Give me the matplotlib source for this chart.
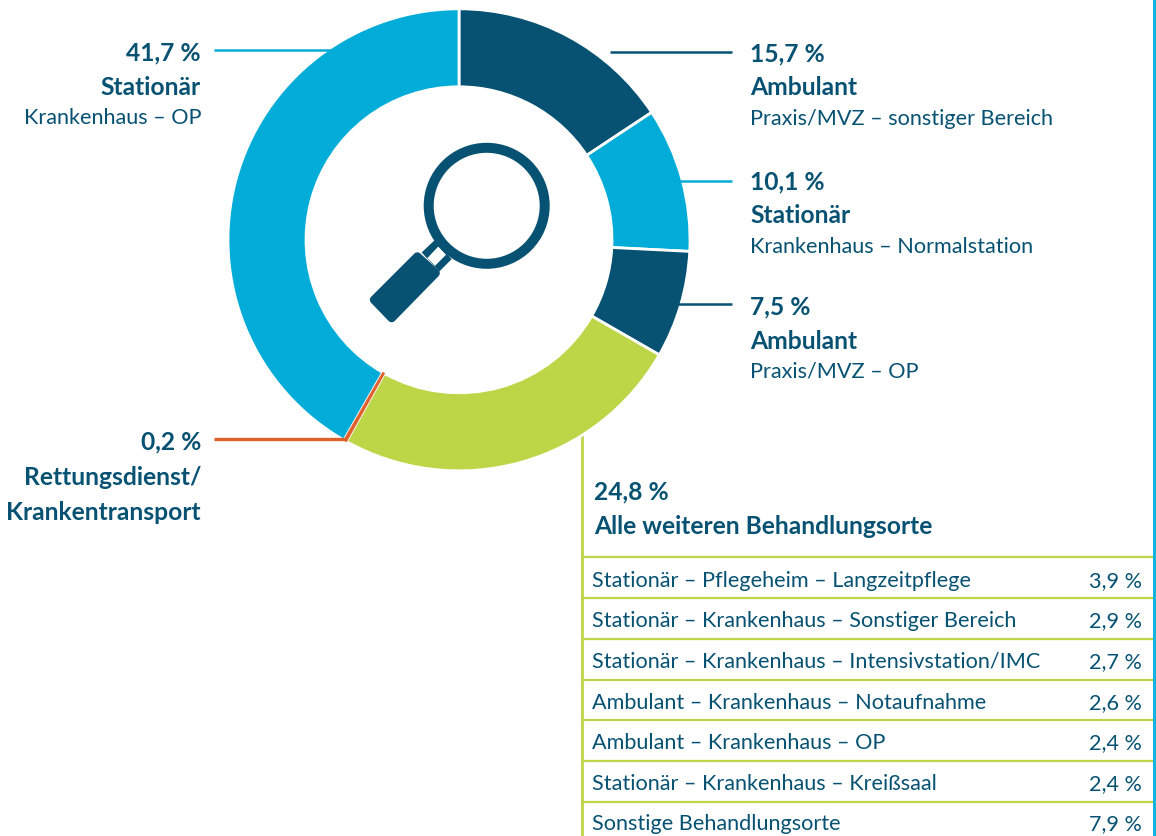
import matplotlib
matplotlib.use("Agg")
import matplotlib.pyplot as plt
from matplotlib.patches import Circle, Polygon

W, H = 1156, 837

# ring, clockwise from the top
ring_values = [15.7, 10.1, 7.5, 24.8, 0.2, 41.7]
ring_colors = ["#075273", "#02acd8", "#075273", "#bcd647", "#e0602c", "#02acd8"]

# table under the green slice
table_labels = [
    "Stationär – Pflegeheim – Langzeitpflege",
    "Stationär – Krankenhaus – Sonstiger Bereich",
    "Stationär – Krankenhaus – Intensivstation/IMC",
    "Ambulant – Krankenhaus – Notaufnahme",
    "Ambulant – Krankenhaus – OP",
    "Stationär – Krankenhaus – Kreißsaal",
    "Sonstige Behandlungsorte",
]
table_values = ["3,9 %", "2,9 %", "2,7 %", "2,6 %", "2,4 %", "2,4 %", "7,9 %"]

DARK = "#075273"
CYAN = "#02acd8"
GREEN = "#bcd647"
ORANGE = "#e0602c"
FONT = "Lato"


def Y(y):
    # the picture was measured from the top
    return H - y - 0.8


def put(x, y, s, bold=False, ha="left"):
    ax.text(x, Y(y), s, ha=ha, va="center", fontsize=17.7 if bold else 15.6, color=DARK,
            family=[FONT, "DejaVu Sans"], fontweight="bold" if bold else "normal")


def hline(x0, x1, y, color, lw=1.8, z=4):
    ax.plot([x0, x1], [Y(y), Y(y)], color=color, lw=lw, solid_capstyle="butt", zorder=z)


def pts(points):
    # icon points
    return [(340 + x / 3, Y(130 + y / 3)) for x, y in points]


fig = plt.figure(figsize=(W / 100, H / 100), dpi=100)
ax = fig.add_axes([0, 0, 1, 1])

wedges, _ = ax.pie(ring_values, colors=ring_colors, startangle=90, counterclock=False,
                   center=(459, Y(240)), radius=231, frame=True,
                   wedgeprops=dict(width=78, edgecolor="white", linewidth=2.0, zorder=3))
# the thin slice would vanish under the white edges
wedges[4].set_edgecolor(ORANGE)
wedges[4].set_linewidth(0.7)
wedges[4].set_zorder(4)

ax.set_xlim(0, W)
ax.set_ylim(0, H)
ax.set_aspect("auto")
ax.axis("off")

# leader lines, they run a little into their own slice
hline(214, 340, 50, CYAN)
hline(610, 732, 52, DARK)
hline(670, 732, 181, CYAN)
hline(675, 732, 304, DARK)
hline(214, 347, 439.5, ORANGE, lw=2.4)

# table frame
ax.plot([582, 582], [Y(432), 0], color=GREEN, lw=2, solid_capstyle="butt", zorder=1)
ax.plot([1153.5, 1153.5], [H, 0], color="#12b4e0", lw=2.2, solid_capstyle="butt", zorder=2)
row_lines = [557, 598, 639, 680, 720, 761, 802]
for y in row_lines:
    hline(582, 1153, y, GREEN, lw=1.6, z=1)

# magnifier
ax.add_patch(Polygon(pts([(245, 368), (283, 332), (335, 388), (298, 425)]), color=DARK, lw=0, zorder=5))
ax.add_patch(Polygon(pts([(262, 385), (295, 350), (318, 375), (285, 408)]), color="white", lw=0, zorder=6))
ax.add_patch(Polygon(pts([(102, 510), (155, 565), (287, 430), (232, 380)]), facecolor=DARK,
                     edgecolor=DARK, lw=6, joinstyle="round", zorder=7))
ax.add_patch(Circle((486.7, Y(206)), 58, facecolor="white", edgecolor=DARK, lw=7.2, zorder=8))

# labels on the left
put(201, 52, "41,7 %", True, "right")
put(201, 87, "Stationär", True, "right")
put(201, 117, "Krankenhaus – OP", False, "right")
put(201, 441, "0,2 %", True, "right")
put(201, 477, "Rettungsdienst/", True, "right")
put(201, 512, "Krankentransport", True, "right")

# labels on the right
put(750, 53, "15,7 %", True)
put(750, 87, "Ambulant", True)
put(750, 118, "Praxis/MVZ – sonstiger Bereich")
put(750, 181, "10,1 %", True)
put(750, 215, "Stationär", True)
put(750, 246, "Krankenhaus – Normalstation")
put(750, 306, "7,5 %", True)
put(750, 341, "Ambulant", True)
put(750, 371, "Praxis/MVZ – OP")
put(594, 491, "24,8 %", True)
put(594, 526, "Alle weiteren Behandlungsorte", True)

for i, (label, value) in enumerate(zip(table_labels, table_values)):
    y = 580 + i * 40.6
    put(592, y, label)
    put(1142, y, value, ha="right")

fig.savefig("out.png", dpi=100)
